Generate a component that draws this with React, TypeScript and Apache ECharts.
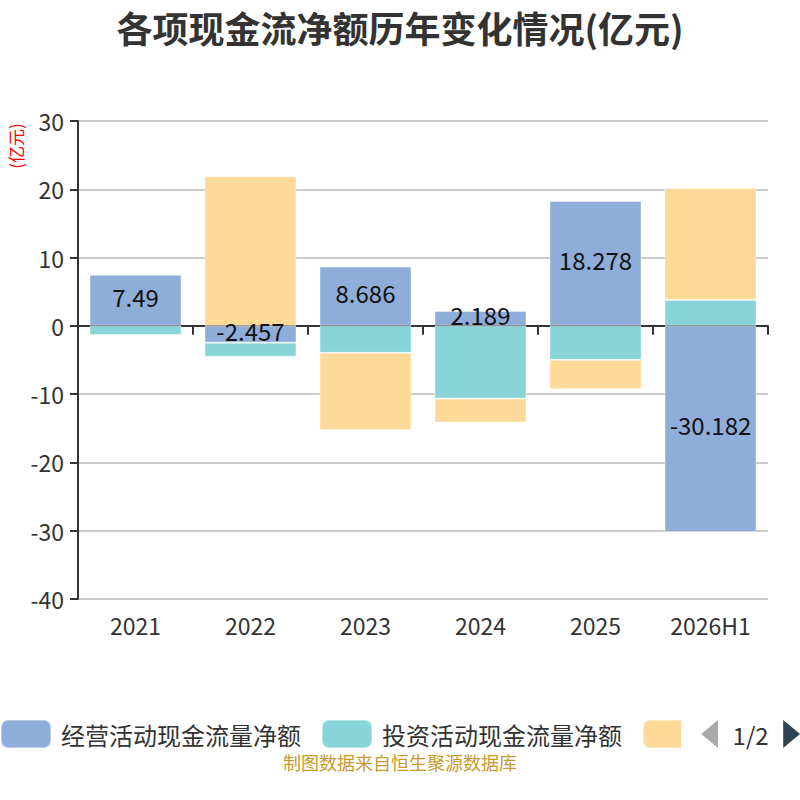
import React, { useEffect, useRef } from "react";
import * as echarts from "echarts";

const categories = ["2021", "2022", "2023", "2024", "2025", "2026H1"];
const seriesNames = ["经营活动现金流量净额", "投资活动现金流量净额", "筹资活动现金流量净额"];
const operating = [7.49, -2.457, 8.686, 2.189, 18.278, -30.182];
const investing = [-1.35, -2.05, -3.95, -10.65, -4.98, 3.8];
const financing = [-0.1, 21.9, -11.3, -3.5, -4.3, 16.4];
const colors = ["#8eaed9", "#87d5d8", "#fed998"];
const yTicks = { min: -40, max: 30, interval: 10 };

const FONT = "'Noto Sans CJK SC', 'Noto Sans', sans-serif";

export default function App() {
  const ref = useRef<HTMLDivElement>(null);
  useEffect(() => {
    document.body.style.margin = "0";
    if (!ref.current) return;
    const chart = echarts.init(ref.current, undefined, { renderer: "svg" });
    const data = [operating, investing, financing];
    chart.setOption({
      animation: false,
      textStyle: { fontFamily: FONT },
      color: colors,
      title: {
        text: "各项现金流净额历年变化情况(亿元)",
        left: "center",
        top: 4,
        textStyle: { fontSize: 36, fontWeight: "bold", color: "#333", fontFamily: FONT },
      },
      grid: { left: 78, right: 32, top: 121, bottom: 201, containLabel: false, outerBoundsMode: "none" },
      legend: {
        type: "scroll",
        top: 719,
        left: 0,
        right: 0,
        padding: 0,
        itemWidth: 50,
        itemHeight: 28,
        itemGap: 20,
        icon: "roundRect",
        textStyle: { fontSize: 24, color: "#333", fontFamily: FONT, padding: [0, 0, 0, 5] },
        pageIconSize: [17, 28],
        pageButtonItemGap: 4,
        pageButtonGap: 20,
        pageIconColor: "#2f4554",
        pageIconInactiveColor: "#aaa",
        pageTextStyle: { fontSize: 24, color: "#333", fontFamily: FONT },
        data: seriesNames,
      },
      graphic: [
        {
          type: "text",
          x: 15,
          y: 146,
          rotation: Math.PI / 2,
          style: {
            text: "(亿元)",
            fill: "#ff0000",
            fontSize: 17,
            fontFamily: FONT,
            align: "center",
            verticalAlign: "middle",
          },
        },
        {
          type: "text",
          x: 400,
          y: 762,
          style: {
            text: "制图数据来自恒生聚源数据库",
            fill: "#c99a2e",
            fontSize: 18,
            fontFamily: FONT,
            align: "center",
            verticalAlign: "middle",
          },
        },
      ],
      xAxis: [
        {
          type: "category",
          data: categories,
          position: "bottom",
          axisLine: { show: false, onZero: false },
          axisTick: { show: false },
          axisLabel: { fontSize: 23, color: "#333", margin: 14, fontFamily: FONT },
        },
        {
          type: "category",
          data: categories,
          position: "top",
          axisLine: { show: true, onZero: true, lineStyle: { color: "#333", width: 2 } },
          axisTick: { show: true, inside: true, length: 9, lineStyle: { color: "#333", width: 2 } },
          axisLabel: { show: false },
        },
      ],
      yAxis: {
        type: "value",
        min: yTicks.min,
        max: yTicks.max,
        interval: yTicks.interval,
        axisLine: { show: true, lineStyle: { color: "#333", width: 2 } },
        axisTick: { show: true, length: 8, lineStyle: { color: "#333", width: 2 } },
        axisLabel: { fontSize: 23, color: "#333", margin: 14, fontFamily: FONT },
        splitLine: { lineStyle: { color: "#ccc", width: 2 } },
      },
      series: seriesNames.map((name, i) => ({
        name,
        type: "bar",
        stack: "total",
        barWidth: "80%",
        xAxisIndex: 0,
        data: data[i],
        itemStyle: { color: colors[i], borderColor: "rgba(255,255,255,0.4)", borderWidth: 1 },
        label:
          i === 0
            ? {
                show: true,
                position: "inside",
                offset: [0, -4],
                fontSize: 24,
                color: "#111",
                fontFamily: FONT,
                formatter: (p: any) => String(p.value),
              }
            : { show: false },
      })),
    });
    return () => chart.dispose();
  }, []);
  return <div ref={ref} style={{ width: 800, height: 800 }} />;
}
